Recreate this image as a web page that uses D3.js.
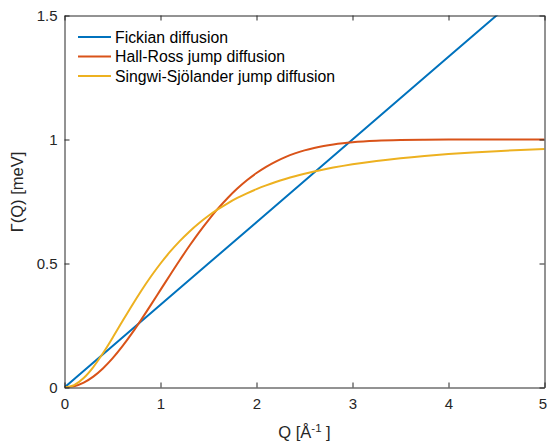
<!DOCTYPE html>
<html>
<head>
<meta charset="utf-8">
<script src="https://cdn.jsdelivr.net/npm/d3@7"></script>
<style>
  html, body { margin: 0; padding: 0; background: #fff; }
  svg { display: block; font-family: "Liberation Sans", Arial, Helvetica, sans-serif; }
</style>
</head>
<body>
<svg id="chart" width="547" height="444"></svg>
<script>
// ---- data ----
const seriesNames = ["Fickian diffusion", "Hall-Ross jump diffusion", "Singwi-Sjölander jump diffusion"];
const seriesColors = ["#0072BD", "#D95319", "#EDB120"];

const fickQ = [0, 1, 2, 3, 4, 4.5, 5];
const fickG = [0, 0.3333, 0.6667, 1.0, 1.3333, 1.5, 1.6667];

const qGrid = [0, 0.1, 0.2, 0.3, 0.4, 0.5, 0.6, 0.7, 0.8, 0.9, 1.0,
               1.1, 1.2, 1.3, 1.4, 1.5, 1.6, 1.7, 1.8, 1.9, 2.0,
               2.1, 2.2, 2.3, 2.4, 2.5, 2.6, 2.7, 2.8, 2.9, 3.0,
               3.25, 3.5, 3.75, 4.0, 4.25, 4.5, 4.75, 5.0];
const hallRossG = [0, 0.0050, 0.0198, 0.0440, 0.0769, 0.1175, 0.1647, 0.2173, 0.2739, 0.3330, 0.3935,
                   0.4539, 0.5132, 0.5704, 0.6247, 0.6753, 0.7220, 0.7643, 0.8021, 0.8355, 0.8647,
                   0.8897, 0.9111, 0.9290, 0.9439, 0.9561, 0.9660, 0.9739, 0.9802, 0.9851, 0.9889,
                   0.9949, 0.9978, 0.9991, 0.9997, 0.9999, 1.0, 1.0, 1.0];
const singwiG = [0, 0.0099, 0.0385, 0.0826, 0.1379, 0.2000, 0.2647, 0.3289, 0.3902, 0.4475, 0.5000,
                 0.5475, 0.5902, 0.6283, 0.6622, 0.6923, 0.7191, 0.7429, 0.7642, 0.7831, 0.8000,
                 0.8152, 0.8288, 0.8410, 0.8521, 0.8621, 0.8711, 0.8794, 0.8869, 0.8937, 0.9000,
                 0.9135, 0.9245, 0.9336, 0.9412, 0.9475, 0.9529, 0.9576, 0.9615];

const xTicks = [0, 1, 2, 3, 4, 5];
const yTicks = [0, 0.5, 1, 1.5];
const yTickLabels = ["0", "0.5", "1", "1.5"];

// ---- layout ----
const svg = d3.select("#chart");
const pLeft = 64.5, pRight = 544.5, pTop = 15.5, pBottom = 387.5;
const x = d3.scaleLinear().domain([0, 5]).range([pLeft, pRight]);
const y = d3.scaleLinear().domain([0, 1.5]).range([pBottom, pTop]);
const axisColor = "#262626";

svg.append("defs").append("clipPath").attr("id", "clip")
  .append("rect").attr("x", pLeft).attr("y", pTop)
  .attr("width", pRight - pLeft).attr("height", pBottom - pTop);

// ---- series ----
const line = d3.line().x(d => x(d[0])).y(d => y(d[1])).curve(d3.curveMonotoneX);
const series = [
  d3.zip(fickQ, fickG),
  d3.zip(qGrid, hallRossG),
  d3.zip(qGrid, singwiG)
];
const plot = svg.append("g").attr("clip-path", "url(#clip)");
series.forEach((s, i) => {
  plot.append("path")
    .datum(s)
    .attr("d", line)
    .attr("fill", "none")
    .attr("stroke", seriesColors[i])
    .attr("stroke-width", 2);
});

// ---- axes (box with inward ticks on all sides) ----
const tickLen = 5;
const fmtX = d3.format("d");
const gx = svg.append("g").attr("transform", `translate(0,${pBottom})`)
  .call(d3.axisBottom(x).tickValues(xTicks).tickFormat(fmtX).tickSizeInner(-tickLen).tickSizeOuter(0).tickPadding(11));
const gxTop = svg.append("g").attr("transform", `translate(0,${pTop})`)
  .call(d3.axisTop(x).tickValues(xTicks).tickFormat("").tickSizeInner(-tickLen).tickSizeOuter(0));
const gy = svg.append("g").attr("transform", `translate(${pLeft},0)`)
  .call(d3.axisLeft(y).tickValues(yTicks).tickFormat((d, i) => yTickLabels[i]).tickSizeInner(-tickLen).tickSizeOuter(0).tickPadding(7));
const gyRight = svg.append("g").attr("transform", `translate(${pRight},0)`)
  .call(d3.axisRight(y).tickValues(yTicks).tickFormat("").tickSizeInner(-tickLen).tickSizeOuter(0));

[gx, gxTop, gy, gyRight].forEach(g => {
  g.select(".domain").attr("stroke", axisColor).attr("stroke-width", 1);
  g.selectAll(".tick line").attr("stroke", axisColor).attr("stroke-width", 1);
  g.selectAll(".tick text").attr("fill", axisColor)
    .style("font-size", "15px")
    .style("font-family", "'Liberation Sans', Arial, sans-serif");
});
// keep the last x tick label inside the window
gx.selectAll(".tick text").filter(d => d === 5).attr("dx", -2);

// ---- axis labels ----
const xl = svg.append("text")
  .attr("x", (pLeft + pRight) / 2).attr("y", 438)
  .attr("text-anchor", "middle")
  .attr("fill", axisColor)
  .style("font-size", "16.5px");
xl.append("tspan").text("Q [Å");
xl.append("tspan").attr("dy", -6).style("font-size", "11.5px").text("-1");
xl.append("tspan").attr("dy", 6).text(" ]");

svg.append("text")
  .attr("transform", `translate(23,192) rotate(-90)`)
  .attr("text-anchor", "middle")
  .attr("fill", axisColor)
  .style("font-size", "16.5px")
  .text("Γ(Q) [meV]");

// ---- legend (no box) ----
const legend = svg.append("g");
const legendY = [37, 56.5, 76];
seriesNames.forEach((name, i) => {
  legend.append("line")
    .attr("x1", 78).attr("x2", 111)
    .attr("y1", legendY[i]).attr("y2", legendY[i])
    .attr("stroke", seriesColors[i]).attr("stroke-width", 2);
  legend.append("text")
    .attr("x", 115).attr("y", legendY[i])
    .attr("dy", "0.35em")
    .attr("fill", "#000")
    .style("font-size", "15.8px")
    .text(name);
});
</script>
</body>
</html>
